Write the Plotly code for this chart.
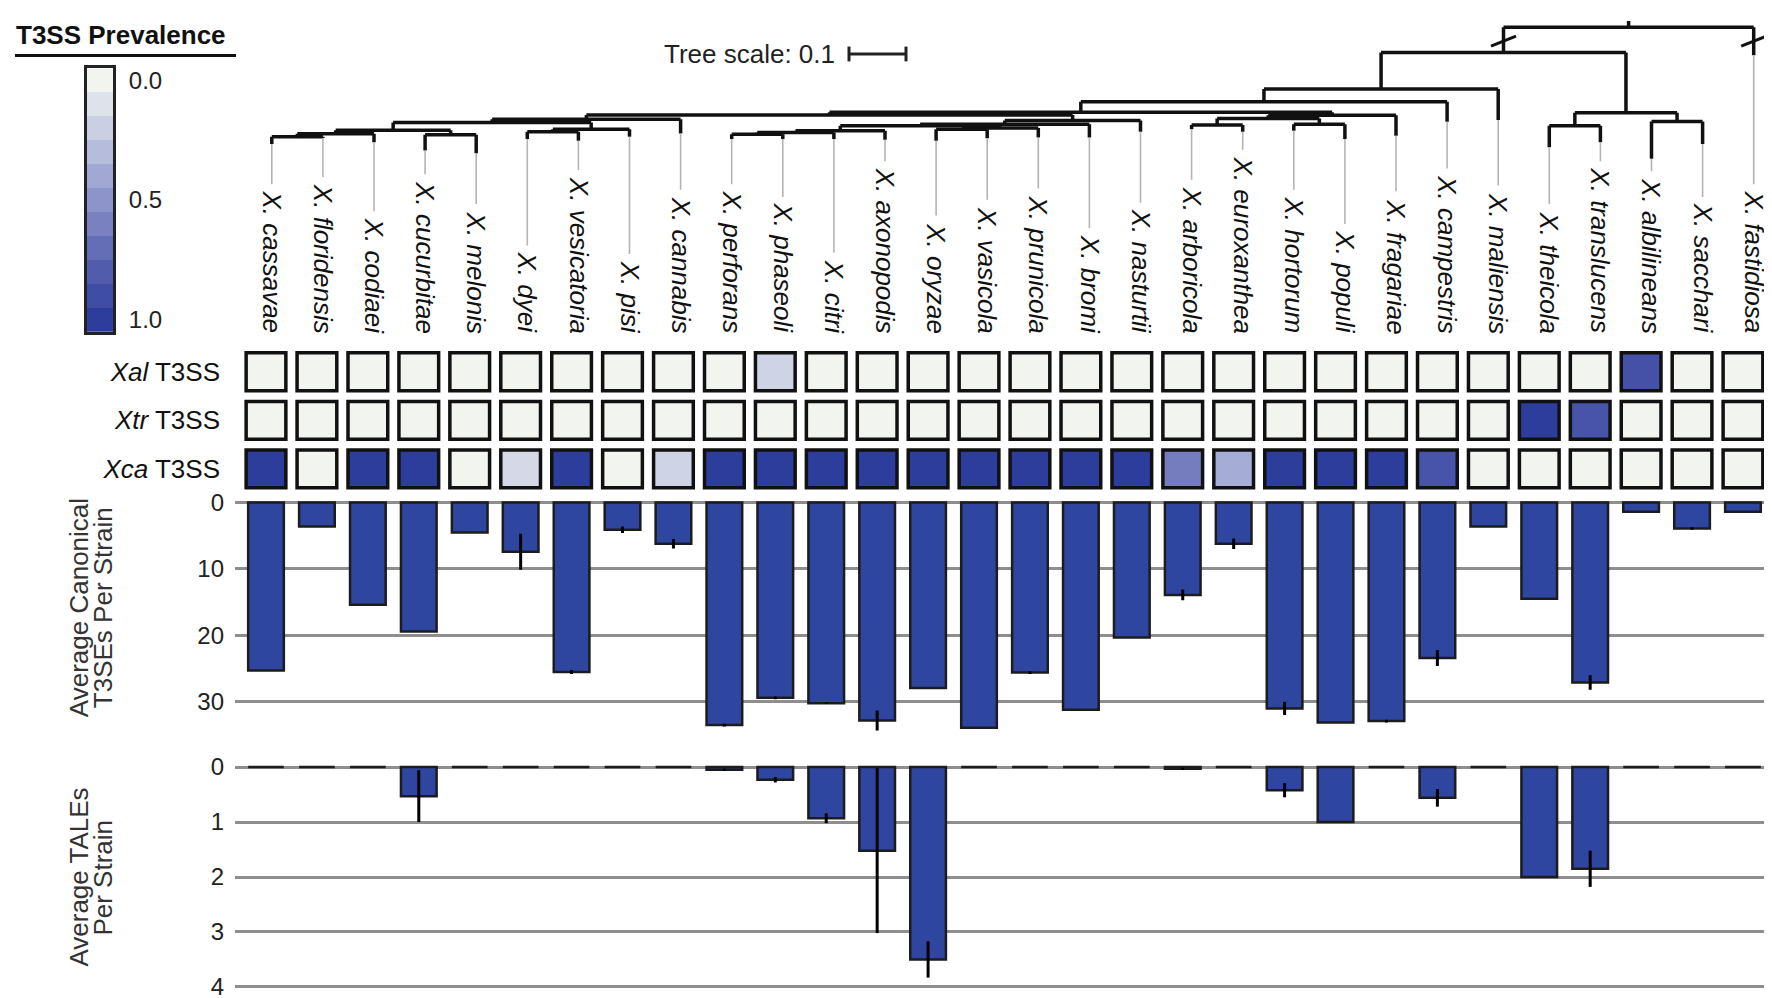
import plotly.graph_objects as go

W, H = 1772, 998
FONT = "Liberation Sans, Arial, Helvetica, sans-serif"

# ---------------- data ----------------
species = ["cassavae", "floridensis", "codiaei", "cucurbitae", "melonis", "dyei",
           "vesicatoria", "pisi", "cannabis", "perforans", "phaseoli", "citri",
           "axonopodis", "oryzae", "vasicola", "prunicola", "bromi", "nasturtii",
           "arboricola", "euroxanthea", "hortorum", "populi", "fragariae",
           "campestris", "maliensis", "theicola", "translucens", "albilineans",
           "sacchari", "fastidiosa"]

row_labels = ["<i>Xal</i> T3SS", "<i>Xtr</i> T3SS", "<i>Xca</i> T3SS"]
xal_t3ss = [0, 0, 0, 0, 0, 0, 0, 0, 0, 0, 0.18, 0, 0, 0, 0, 0, 0, 0, 0, 0,
            0, 0, 0, 0, 0, 0, 0, 0.87, 0, 0]
xtr_t3ss = [0, 0, 0, 0, 0, 0, 0, 0, 0, 0, 0, 0, 0, 0, 0, 0, 0, 0, 0, 0,
            0, 0, 0, 0, 0, 1.0, 0.85, 0, 0, 0]
xca_t3ss = [1, 0, 1, 1, 0, 0.15, 1, 0, 0.18, 1, 1, 1, 1, 1, 1, 1, 1, 1, 0.62, 0.38,
            1, 1, 1, 0.85, 0, 0, 0, 0, 0, 0]

t3se_mean = [25.3, 3.6, 15.4, 19.4, 4.5, 7.4, 25.5, 4.1, 6.2, 33.5, 29.4, 30.2, 32.8,
             27.9, 33.9, 25.6, 31.2, 20.3, 13.9, 6.2, 31.0, 33.1, 32.9, 23.4, 3.6,
             14.5, 27.1, 1.4, 3.9, 1.4]
t3se_err = [0, 0, 0, 0, 0, 2.7, 0.3, 0.5, 0.7, 0.2, 0.2, 0.1, 1.5, 0, 0, 0.2, 0, 0,
            0.8, 0.8, 1.0, 0, 0.2, 1.2, 0, 0, 1.1, 0, 0.2, 0]
tale_mean = [0, 0, 0, 0.53, 0, 0, 0, 0, 0, 0.05, 0.23, 0.93, 1.52, 3.5, 0, 0, 0, 0,
             0.03, 0, 0.42, 1.0, 0, 0.56, 0, 2.0, 1.85, 0, 0, 0]
tale_err = [0, 0, 0, 0.47, 0, 0, 0, 0, 0, 0.02, 0.05, 0.09, 1.5, 0.33, 0, 0, 0, 0,
            0.02, 0, 0.13, 0, 0, 0.16, 0, 0, 0.33, 0, 0, 0]

prevalence_levels = [0.0, 0.1, 0.2, 0.3, 0.4, 0.5, 0.6, 0.7, 0.8, 0.9, 1.0]
legend_ticks = [0.0, 0.5, 1.0]
t3se_ticks = [0, 10, 20, 30]
tale_ticks = [0, 1, 2, 3, 4]
tree_scale = 0.1

# tree: (node, left child, right child, depth from root); ints are leaf indices
tree_nodes = [
    ("A", 0, 1, 0.1947), ("B", "A", 2, 0.1895), ("C", 3, 4, 0.1912),
    ("D", "B", "C", 0.1832), ("E", 5, 6, 0.1860), ("F", "E", 7, 0.1814),
    ("P1", "D", "F", 0.1696), ("P2", "P1", 8, 0.1639),
    ("I", 9, 10, 0.1902), ("J", "I", 11, 0.1872), ("K", "J", 12, 0.1842),
    ("L", 13, 14, 0.1814), ("M", "L", 15, 0.1793), ("N", "K", "M", 0.1754),
    ("O", "N", 16, 0.1726), ("MC", "O", 17, 0.1661), ("Q", "P2", "MC", 0.1561),
    ("T1", 18, 19, 0.1740), ("T2", 20, 21, 0.1726), ("T3", "T1", "T2", 0.1626),
    ("T4", "T3", 22, 0.1565), ("R", "Q", "T4", 0.1512), ("U", "R", 23, 0.1328),
    ("V", "U", 24, 0.1100), ("W", 25, 26, 0.1754), ("Xn", 27, 28, 0.1679),
    ("Y", "W", "Xn", 0.1521), ("Z", "V", "Y", 0.0451), ("root", "Z", 29, 0.0),
]
leaf_tip_depth = [0.2077, 0.1972, 0.2047, 0.2193, 0.2240, 0.1989, 0.2018, 0.1947,
                  0.1889, 0.1989, 0.1989, 0.1989, 0.2000, 0.2018, 0.1977, 0.1960,
                  0.1960, 0.1860, 0.1814, 0.1860, 0.1842, 0.1989, 0.1930, 0.1684,
                  0.1649, 0.2135, 0.2047, 0.2340, 0.2077, 0.0498]
broken_branches = ["Z", 29]

# ---------------- geometry helpers ----------------
def fx(p):
    return p / W

def fy(p):
    return 1 - p / H

PLOT_L, PLOT_R = 227, 1765
TREE_ROOT_PX, TREE_PX_PER_UNIT = 13.3, 570.0
TREE_X0, TREE_PITCH = 263.8, 51.1
BAR_X0, BAR_PITCH = 258.0, 50.93
LABEL_BOTTOM_PX = 326
LABEL_SIZE = 26

def tree_d(p):
    return (p - TREE_ROOT_PX) / TREE_PX_PER_UNIT

ARIAL = {'a': 556, 'b': 556, 'c': 500, 'd': 556, 'e': 556, 'f': 278, 'g': 556,
         'h': 556, 'i': 222, 'j': 222, 'k': 500, 'l': 222, 'm': 833, 'n': 556,
         'o': 556, 'p': 556, 'q': 556, 'r': 333, 's': 500, 't': 278, 'u': 556,
         'v': 500, 'w': 722, 'x': 500, 'y': 500, 'z': 500, 'X': 667, '.': 278, ' ': 278}

def text_px(s, size):
    return sum(ARIAL.get(ch, 556) for ch in s) * size / 1000.0

CS = [[0.0, "#F2F4F0"], [0.25, "#C0C6E1"], [0.5, "#8D94CA"], [0.75, "#5A64B2"], [1.0, "#2D3D9B"]]
BAR_FILL = "#2F46A1"

fig = go.Figure()

# ---------------- tree ----------------
pos = {i: float(i) for i in range(len(species))}
dep = {i: leaf_tip_depth[i] for i in range(len(species))}
tx, ty = [], []
for name, a, b, d in tree_nodes:
    pos[name] = (pos[a] + pos[b]) / 2
    dep[name] = d
    tx += [pos[a], pos[b], None]
    ty += [d, d, None]
    for c in (a, b):
        tx += [pos[c], pos[c], None]
        ty += [d, dep[c], None]
tx += [pos["root"], pos["root"], None]
ty += [dep["root"], tree_d(7), None]
fig.add_trace(go.Scatter(x=tx, y=ty, mode="lines", line=dict(color="#111", width=3.5),
                         xaxis="x", yaxis="y", hoverinfo="skip", showlegend=False))

# gray connectors to labels
gx, gy = [], []
for i, sp in enumerate(species):
    top = LABEL_BOTTOM_PX - text_px("X. " + sp, LABEL_SIZE) - 12
    gx += [i, i, None]
    gy += [leaf_tip_depth[i], tree_d(top), None]
fig.add_trace(go.Scatter(x=gx, y=gy, mode="lines", line=dict(color="#b4b4b4", width=1.6),
                         xaxis="x", yaxis="y", hoverinfo="skip", showlegend=False))

# break marks
bx, by = [], []
for n in broken_branches:
    xc = pos[n]
    dc = tree_d(27.5)
    dxu = 12.5 / TREE_PITCH
    ddu = 5.0 / TREE_PX_PER_UNIT
    bx += [xc - dxu, xc + dxu, None]
    by += [dc + ddu, dc - ddu, None]
fig.add_trace(go.Scatter(x=bx, y=by, mode="lines", line=dict(color="#111", width=3),
                         xaxis="x", yaxis="y", hoverinfo="skip", showlegend=False))

# ---------------- heatmap cells ----------------
rows_vals = [xal_t3ss, xtr_t3ss, xca_t3ss]
CELL_H = 0.78
hx_, hb, hv = [], [], []
for r, vals in enumerate(rows_vals):
    for i, v in enumerate(vals):
        hx_.append(i)
        hb.append(r - CELL_H / 2)
        hv.append(v)
fig.add_trace(go.Bar(x=hx_, y=[CELL_H] * len(hx_), base=hb, width=0.78,
                     marker=dict(color=hv, colorscale=CS, cmin=0, cmax=1,
                                 line=dict(color="#111", width=3.5)),
                     xaxis="x2", yaxis="y2", hoverinfo="skip", showlegend=False))

# ---------------- bars ----------------
err_style = dict(type="data", color="#000", thickness=3, width=0)
fig.add_trace(go.Bar(x=list(range(len(species))), y=t3se_mean, width=0.70,
                     marker=dict(color=BAR_FILL, line=dict(color="#1c1c1c", width=2.5)),
                     error_y=dict(array=t3se_err, **err_style),
                     xaxis="x3", yaxis="y3", hoverinfo="skip", showlegend=False))
fig.add_trace(go.Bar(x=list(range(len(species))), y=tale_mean, width=0.70,
                     marker=dict(color=BAR_FILL, line=dict(color="#1c1c1c", width=2.5)),
                     error_y=dict(array=tale_err, **err_style),
                     xaxis="x4", yaxis="y4", hoverinfo="skip", showlegend=False))

# ---------------- prevalence legend ----------------
fig.add_trace(go.Heatmap(z=[[v] for v in prevalence_levels], x=[0], y=prevalence_levels,
                         colorscale=CS, zmin=0, zmax=1, showscale=False,
                         xaxis="x5", yaxis="y5", hoverinfo="skip"))

# ---------------- axes ----------------
dom_x = [fx(PLOT_L), fx(PLOT_R)]
bar_range = [(PLOT_L - BAR_X0) / BAR_PITCH, (PLOT_R - BAR_X0) / BAR_PITCH]
tree_range = [(PLOT_L - TREE_X0) / TREE_PITCH, (PLOT_R - TREE_X0) / TREE_PITCH]
tick_font = dict(family=FONT, size=24, color="#222")
hidden_x = dict(domain=dom_x, range=bar_range, visible=False, fixedrange=True)

T3_TOP, T3_BOT, T3_ZERO, T3_PPU = 487, 738, 495, 6.73
TA_TOP, TA_BOT, TA_ZERO, TA_PPU = 755, 992, 763, 55.7

grid = dict(showgrid=True, gridcolor="#8e8e8e", gridwidth=3, zeroline=False,
            showline=False, ticks="", ticklabelstandoff=10, tickfont=tick_font,
            ticklabeloverflow="allow")

fig.update_layout(
    width=W, height=H, margin=dict(l=0, r=0, t=0, b=0),
    paper_bgcolor="white", plot_bgcolor="rgba(0,0,0,0)",
    barmode="overlay", font=dict(family=FONT, color="#222"),
    xaxis=dict(domain=dom_x, range=tree_range, visible=False),
    yaxis=dict(domain=[fy(335), 1], range=[tree_d(335), tree_d(0)], visible=False),
    xaxis2=dict(hidden_x, anchor="y2"),
    yaxis2=dict(domain=[fy(485.5), fy(337.9)], range=[2.5, -0.5], anchor="x2",
                tickvals=[0, 1, 2], ticktext=row_labels, showgrid=False, zeroline=False,
                ticks="", ticklabelstandoff=14,
                tickfont=dict(family=FONT, size=26, color="#111")),
    xaxis3=dict(hidden_x, anchor="y3"),
    yaxis3=dict(grid, domain=[fy(T3_BOT), fy(T3_TOP)], anchor="x3",
                range=[(T3_BOT - T3_ZERO) / T3_PPU, (T3_TOP - T3_ZERO) / T3_PPU],
                tickvals=t3se_ticks),
    xaxis4=dict(hidden_x, anchor="y4"),
    yaxis4=dict(grid, domain=[fy(TA_BOT), fy(TA_TOP)], anchor="x4",
                range=[(TA_BOT - TA_ZERO) / TA_PPU, (TA_TOP - TA_ZERO) / TA_PPU],
                tickvals=tale_ticks),
    xaxis5=dict(domain=[fx(79), fx(105)], range=[-0.5, 0.5], anchor="y5",
                showticklabels=False, ticks="", showgrid=False, zeroline=False,
                showline=True, mirror=True, linecolor="#222", linewidth=3),
    yaxis5=dict(domain=[fy(322), fy(55)], range=[1.05, -0.05], anchor="x5", side="right",
                tickvals=legend_ticks, ticktext=[f"{v:.1f}" for v in legend_ticks],
                ticks="", ticklabelstandoff=8, showgrid=False, zeroline=False,
                showline=True, mirror=True, linecolor="#222", linewidth=3,
                tickfont=dict(family=FONT, size=24, color="#222")),
)

# ---------------- annotations / shapes ----------------
ann = []
for i, sp in enumerate(species):
    ann.append(dict(x=i, y=tree_d(LABEL_BOTTOM_PX), xref="x", yref="y",
                    text=f"<i>X. {sp}</i>", textangle=90, xanchor="center",
                    yanchor="bottom", showarrow=False,
                    font=dict(family=FONT, size=LABEL_SIZE, color="#111")))
ann.append(dict(x=fx(6), y=fy(21), xref="paper", yref="paper", xanchor="left",
                yanchor="middle", text="<b>T3SS Prevalence</b>", showarrow=False,
                font=dict(family=FONT, size=26, color="#111")))
ann.append(dict(x=fx(829), y=fy(41), xref="paper", yref="paper", xanchor="right",
                yanchor="middle", text="Tree scale: 0.1", showarrow=False,
                font=dict(family=FONT, size=26, color="#222")))
for (ln, xc, yc) in [("Average Canonical", 71, 602), ("T3SEs Per Strain", 95, 602),
                     ("Average TALEs", 71, 875), ("Per Strain", 95, 875)]:
    ann.append(dict(x=fx(xc), y=fy(yc), xref="paper", yref="paper", xanchor="center",
                    yanchor="middle", text=ln, textangle=-90, showarrow=False,
                    font=dict(family=FONT, size=26, color="#333")))

sb0 = 841
sb1 = sb0 + tree_scale * TREE_PX_PER_UNIT
shapes = [
    dict(type="line", xref="paper", yref="paper", x0=fx(7), x1=fx(228), y0=fy(42), y1=fy(42),
         line=dict(color="#111", width=3)),
    dict(type="line", xref="paper", yref="paper", x0=fx(sb0), x1=fx(sb1), y0=fy(40.5), y1=fy(40.5),
         line=dict(color="#222", width=3)),
    dict(type="line", xref="paper", yref="paper", x0=fx(sb0), x1=fx(sb0), y0=fy(33), y1=fy(48),
         line=dict(color="#222", width=3)),
    dict(type="line", xref="paper", yref="paper", x0=fx(sb1), x1=fx(sb1), y0=fy(33), y1=fy(48),
         line=dict(color="#222", width=3)),
]
fig.update_layout(annotations=ann, shapes=shapes)

fig.write_html("out.html")
